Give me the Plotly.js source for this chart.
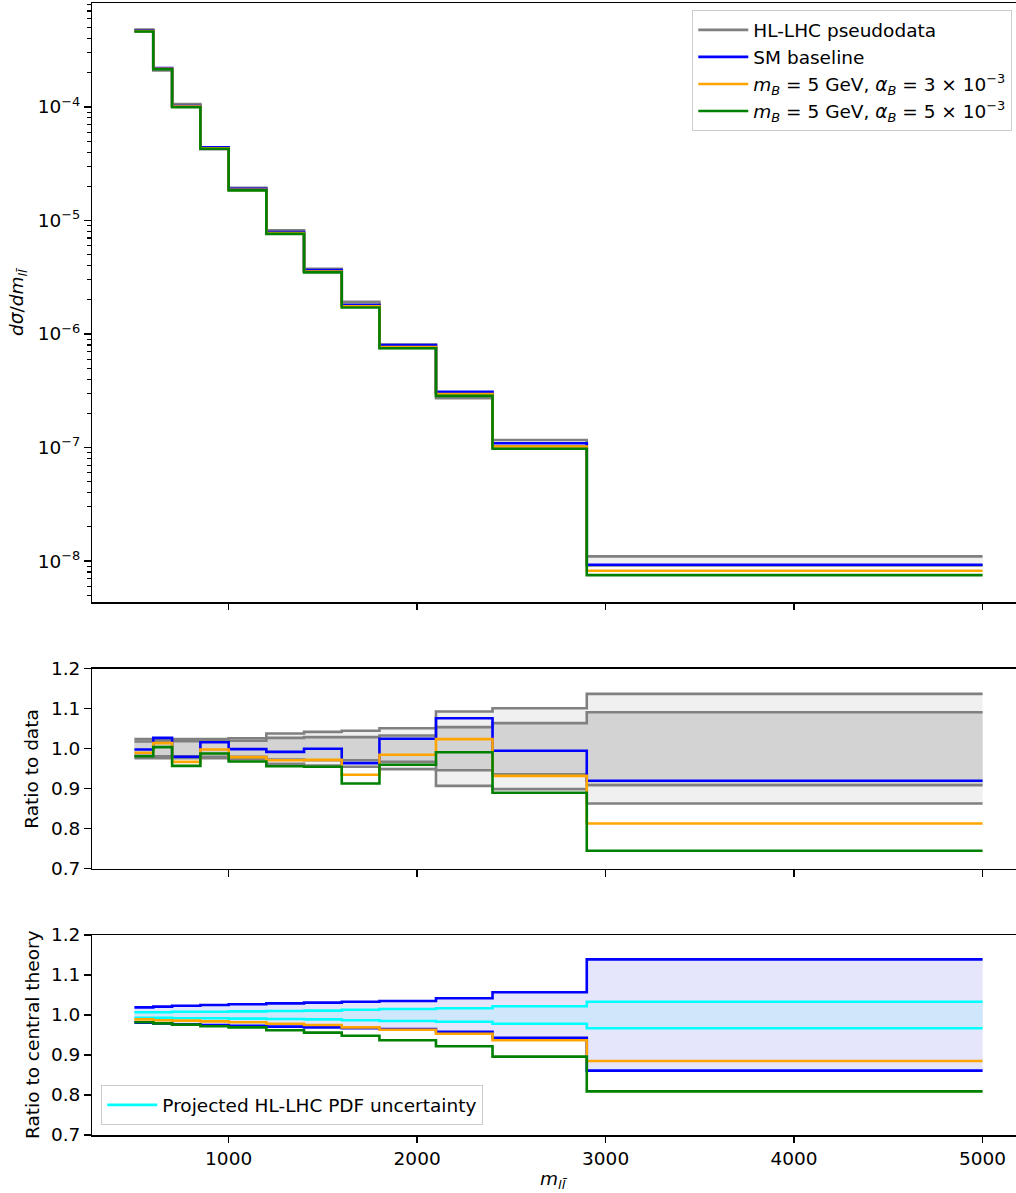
<!DOCTYPE html>
<html>
<head>
<meta charset="utf-8">
<script src="https://cdn.plot.ly/plotly-3.0.1.min.js"></script>
<style>
html, body { margin: 0; padding: 0; overflow: hidden; background: #ffffff; }
#chart { width: 1025px; height: 1193px; }
</style>
</head>
<body>
<div id="chart"></div>
<script>
// ---------------- data ----------------
const binEdges = [500, 600, 700, 850, 1000, 1200, 1400, 1600, 1800, 2100, 2400, 2900, 5000];

// top panel: dsigma/dm
const pseudodata = [4.71e-4, 2.14e-4, 1.04e-4, 4.33e-5, 1.90e-5, 7.96e-6, 3.65e-6, 1.87e-6, 7.80e-7, 2.88e-7, 1.095e-7, 1.008e-8];
const smBaseline = [4.70e-4, 2.20e-4, 1.02e-4, 4.40e-5, 1.90e-5, 7.90e-6, 3.65e-6, 1.80e-6, 8.00e-7, 3.10e-7, 1.09e-7, 9.27e-9];
const bsmAlpha3 = [4.66e-4, 2.17e-4, 1.006e-4, 4.32e-5, 1.86e-5, 7.73e-6, 3.55e-6, 1.75e-6, 7.68e-7, 2.95e-7, 1.02e-7, 8.20e-9];
const bsmAlpha5 = [4.62e-4, 2.15e-4, 9.95e-5, 4.28e-5, 1.84e-5, 7.61e-6, 3.49e-6, 1.71e-6, 7.49e-7, 2.85e-7, 9.75e-8, 7.51e-9];

// middle panel: ratio to data (relative data uncertainties and ratios)
const dataErrInner = [0.018, 0.019, 0.019, 0.020, 0.020, 0.027, 0.029, 0.029, 0.033, 0.054, 0.064, 0.091];
const dataErrOuter = [0.024, 0.024, 0.024, 0.024, 0.026, 0.038, 0.042, 0.045, 0.051, 0.093, 0.101, 0.137];
const ratioDataSM = [0.998, 1.027, 0.980, 1.016, 0.999, 0.992, 1.000, 0.964, 1.025, 1.076, 0.995, 0.920];
const ratioDataA3 = [0.990, 1.014, 0.967, 0.998, 0.979, 0.971, 0.972, 0.935, 0.985, 1.024, 0.932, 0.813];
const ratioDataA5 = [0.981, 1.004, 0.957, 0.988, 0.968, 0.956, 0.955, 0.913, 0.960, 0.991, 0.890, 0.745];

// bottom panel: ratio to central theory
const theoryUnc = [0.019, 0.021, 0.023, 0.025, 0.027, 0.029, 0.031, 0.033, 0.035, 0.042, 0.057, 0.139];
const pdfUnc = [0.007, 0.007, 0.008, 0.008, 0.009, 0.010, 0.011, 0.013, 0.015, 0.017, 0.022, 0.033];
const ratioTheoryA3 = [0.989, 0.987, 0.986, 0.984, 0.982, 0.978, 0.975, 0.969, 0.963, 0.953, 0.937, 0.885];
const ratioTheoryA5 = [0.982, 0.979, 0.976, 0.972, 0.969, 0.962, 0.956, 0.948, 0.937, 0.922, 0.896, 0.809];

// tick labels
const xTickVals = [1000, 2000, 3000, 4000, 5000];
const logTickVals = [1e-8, 1e-7, 1e-6, 1e-5, 1e-4];
const logTickText = ['10<sup>\u22128</sup>', '10<sup>\u22127</sup>', '10<sup>\u22126</sup>', '10<sup>\u22125</sup>', '10<sup>\u22124</sup>'];
const ratioTickVals = [0.7, 0.8, 0.9, 1.0, 1.1, 1.2];
const ratioTickText = ['0.7', '0.8', '0.9', '1.0', '1.1', '1.2'];

const labelData = 'HL-LHC pseudodata';
const labelSM = 'SM baseline';
const labelA3 = '<i>m</i><sub><i>B</i></sub> = 5 GeV, <i>\u03b1</i><sub><i>B</i></sub> = 3 \u00d7 10<sup>\u22123</sup>';
const labelA5 = '<i>m</i><sub><i>B</i></sub> = 5 GeV, <i>\u03b1</i><sub><i>B</i></sub> = 5 \u00d7 10<sup>\u22123</sup>';
const labelPDF = 'Projected HL-LHC PDF uncertainty';

// ---------------- helpers ----------------
const GRAY = '#808080', BLUE = '#0000ff', ORANGE = '#ffa500', GREEN = '#008000', CYAN = '#00ffff';
const LW = 2.6;
function stairsY(v) { return v.concat([v[v.length - 1]]); }
function scaleBy(v, s, sign) { return v.map((x, i) => x * (1 + sign * s[i])); }
function around1(s, sign) { return s.map(e => 1 + sign * e); }

function line(y, color, xa, ya, opts) {
  return Object.assign({
    type: 'scatter', mode: 'lines', x: binEdges, y: stairsY(y),
    xaxis: xa, yaxis: ya,
    line: { color: color, width: LW, shape: 'hv' },
    hoverinfo: 'skip', showlegend: false
  }, opts || {});
}
function band(lo, hi, fillcolor, xa, ya) {
  return [
    { type: 'scatter', mode: 'lines', x: binEdges, y: stairsY(lo), xaxis: xa, yaxis: ya,
      line: { width: 0, shape: 'hv', color: 'rgba(0,0,0,0)' }, hoverinfo: 'skip', showlegend: false },
    { type: 'scatter', mode: 'lines', x: binEdges, y: stairsY(hi), xaxis: xa, yaxis: ya,
      line: { width: 0, shape: 'hv', color: 'rgba(0,0,0,0)' }, fill: 'tonexty', fillcolor: fillcolor,
      hoverinfo: 'skip', showlegend: false }
  ];
}

const traces = [];
// ----- top panel -----
const dLo = scaleBy(pseudodata, dataErrInner, -1);
const dHi = scaleBy(pseudodata, dataErrInner, +1);
traces.push(...band(dLo, dHi, '#f0f0f0', 'x', 'y'));
traces.push(line(dLo, GRAY, 'x', 'y'));
traces.push(line(dHi, GRAY, 'x', 'y', { name: labelData, showlegend: true, legend: 'legend' }));
traces.push(line(smBaseline, BLUE, 'x', 'y', { name: labelSM, showlegend: true, legend: 'legend' }));
traces.push(line(bsmAlpha3, ORANGE, 'x', 'y', { name: labelA3, showlegend: true, legend: 'legend' }));
traces.push(line(bsmAlpha5, GREEN, 'x', 'y', { name: labelA5, showlegend: true, legend: 'legend' }));

// ----- middle panel -----
traces.push(...band(around1(dataErrOuter, -1), around1(dataErrOuter, 1), '#f0f0f0', 'x2', 'y2'));
traces.push(...band(around1(dataErrInner, -1), around1(dataErrInner, 1), '#d3d3d3', 'x2', 'y2'));
traces.push(line(around1(dataErrOuter, 1), GRAY, 'x2', 'y2'));
traces.push(line(around1(dataErrOuter, -1), GRAY, 'x2', 'y2'));
traces.push(line(around1(dataErrInner, 1), GRAY, 'x2', 'y2'));
traces.push(line(around1(dataErrInner, -1), GRAY, 'x2', 'y2'));
traces.push(line(ratioDataSM, BLUE, 'x2', 'y2'));
traces.push(line(ratioDataA3, ORANGE, 'x2', 'y2'));
traces.push(line(ratioDataA5, GREEN, 'x2', 'y2'));

// ----- bottom panel -----
traces.push(...band(around1(theoryUnc, -1), around1(theoryUnc, 1), 'rgb(229,229,251)', 'x3', 'y3'));
traces.push(...band(around1(pdfUnc, -1), around1(pdfUnc, 1), 'rgb(207,231,250)', 'x3', 'y3'));
traces.push(line(around1(theoryUnc, 1), BLUE, 'x3', 'y3'));
traces.push(line(around1(theoryUnc, -1), BLUE, 'x3', 'y3'));
traces.push(line(around1(pdfUnc, 1), CYAN, 'x3', 'y3', { name: labelPDF, showlegend: true, legend: 'legend2' }));
traces.push(line(around1(pdfUnc, -1), CYAN, 'x3', 'y3'));
traces.push(line(ratioTheoryA3, ORANGE, 'x3', 'y3'));
traces.push(line(ratioTheoryA5, GREEN, 'x3', 'y3'));

// ---------------- layout ----------------
const FONT = 'DejaVu Sans, sans-serif';
const FS = 18.5;
const axisCommon = {
  showline: true, linecolor: '#000000', linewidth: 1.5, mirror: true,
  ticks: 'outside', ticklen: 6.5, tickwidth: 1.5, tickcolor: '#000000',
  showgrid: false, zeroline: false, tickfont: { family: FONT, size: FS, color: '#000000' }
};
const minorLog = [];
for (let e = -9; e <= -3; e++) for (let k = 2; k <= 9; k++) minorLog.push(k * Math.pow(10, e));

const PT = 3, PB = 1135, PH = 1193, PLOTH = PB - PT; // pixel frame of plot area
function dom(top, bottom) { return [(PB - bottom) / PLOTH, (PB - top) / PLOTH]; }
function py(pix) { return (PB - pix) / PLOTH; }
const PL = 92, PW = 1025 - 92;
function px(pix) { return (pix - PL) / PW; }

const layout = {
  width: 1025, height: PH,
  margin: { l: PL, r: 0, t: PT, b: PH - PB },
  paper_bgcolor: '#ffffff', plot_bgcolor: '#ffffff',
  font: { family: FONT, size: FS, color: '#000000' },
  showlegend: true,
  xaxis: Object.assign({}, axisCommon, { anchor: 'y', domain: [0, 1], range: [275, 5225], tickvals: xTickVals, showticklabels: false }),
  xaxis2: Object.assign({}, axisCommon, { anchor: 'y2', domain: [0, 1], range: [275, 5225], tickvals: xTickVals, showticklabels: false }),
  xaxis3: Object.assign({}, axisCommon, { anchor: 'y3', domain: [0, 1], range: [275, 5225], tickvals: xTickVals, ticktext: xTickVals.map(String), tickmode: 'array' }),
  yaxis: Object.assign({}, axisCommon, {
    anchor: 'x', domain: dom(3, 602), type: 'log', range: [-8.361, -3.0845],
    tickmode: 'array', tickvals: logTickVals, ticktext: logTickText,
    minor: { tickmode: 'array', tickvals: minorLog, ticks: 'outside', ticklen: 3.8, tickwidth: 1.1, tickcolor: '#000000', showgrid: false }
  }),
  yaxis2: Object.assign({}, axisCommon, { anchor: 'x2', domain: dom(668.7, 868.7), range: [0.7, 1.2], tickmode: 'array', tickvals: ratioTickVals, ticktext: ratioTickText }),
  yaxis3: Object.assign({}, axisCommon, { anchor: 'x3', domain: dom(935, 1135), range: [0.7, 1.2], tickmode: 'array', tickvals: ratioTickVals, ticktext: ratioTickText }),
  legend: {
    x: px(1012), xanchor: 'right', y: py(10), yanchor: 'top', traceorder: 'normal',
    itemwidth: 50,
    bgcolor: 'rgba(255,255,255,0.8)', bordercolor: '#cccccc', borderwidth: 1.3,
    font: { family: FONT, size: FS, color: '#000000' }, tracegroupgap: 0
  },
  legend2: {
    x: px(101), xanchor: 'left', y: py(1125), yanchor: 'bottom', traceorder: 'normal',
    itemwidth: 50,
    bgcolor: 'rgba(255,255,255,0.8)', bordercolor: '#cccccc', borderwidth: 1.3,
    font: { family: FONT, size: FS, color: '#000000' }
  },
  annotations: [
    { text: '<i>d\u03c3</i>/<i>dm</i><sub><i>l</i><i>l\u0304</i></sub>', xref: 'paper', yref: 'paper', x: px(18), y: py(302), textangle: -90, showarrow: false, xanchor: 'center', yanchor: 'middle', font: { family: FONT, size: FS } },
    { text: 'Ratio to data', xref: 'paper', yref: 'paper', x: px(32), y: py(768.7), textangle: -90, showarrow: false, xanchor: 'center', yanchor: 'middle', font: { family: FONT, size: FS } },
    { text: 'Ratio to central theory', xref: 'paper', yref: 'paper', x: px(32), y: py(1035), textangle: -90, showarrow: false, xanchor: 'center', yanchor: 'middle', font: { family: FONT, size: FS } },
    { text: '<i>m</i><sub><i>l</i><i>l\u0304</i></sub>', xref: 'paper', yref: 'paper', x: px(553), y: py(1180), showarrow: false, xanchor: 'center', yanchor: 'middle', font: { family: FONT, size: FS } }
  ]
};

Plotly.newPlot('chart', traces, layout, { displayModeBar: false, staticPlot: true });
</script>
</body>
</html>
